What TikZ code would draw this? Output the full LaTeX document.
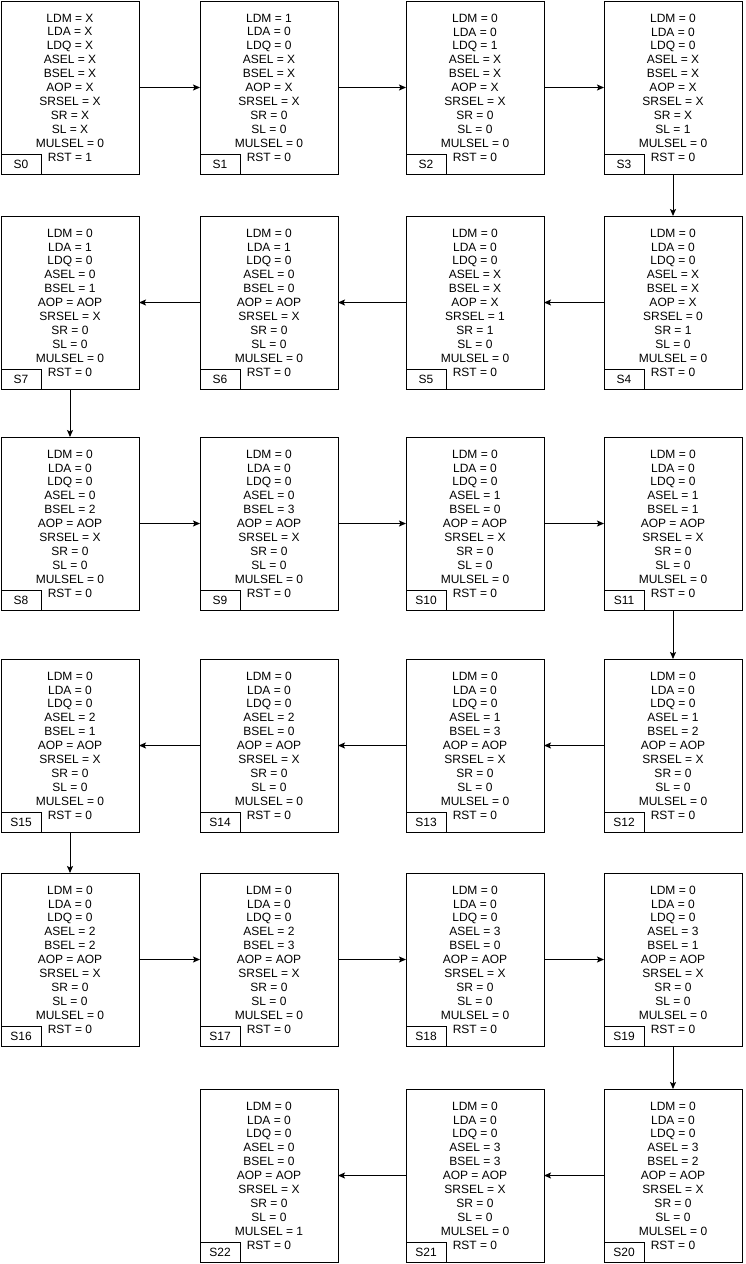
\documentclass[tikz,border=0pt]{standalone}
\usepackage{fontspec}
\setmainfont{Liberation Sans}
\usetikzlibrary{arrows.meta}
\tikzset{
  statebox/.style={draw=black, line width=1pt, minimum width=138pt, minimum height=173pt, inner sep=0pt, outer sep=0pt, fill=white},
  lblbox/.style={draw=black, line width=1pt, minimum width=40pt, minimum height=20pt, inner sep=0pt, outer sep=0pt, font=\fontsize{12}{14}\selectfont},
  txt/.style={align=center, inner sep=0pt, font=\fontsize{12}{13.9}\selectfont},
  arr/.style={draw=black, line width=1pt, -{Stealth[length=7pt, width=6pt, inset=1.5pt]}}
}
\newcommand\vA[9]{LDM = #1\\LDA = #2\\LDQ = #3\\ASEL = #4\\BSEL = #5\\AOP = #6\\SRSEL = #7\\SR = #8\\SL = #9\\}
\newcommand\stbox[5]{%
  \node[statebox, anchor=north west] (#1) at (#3,#4) {};
  \node[lblbox, anchor=south west] (#1l) at (#1.south west) {#2};
  \node[txt] (#1t) at (#1.center) {#5};
}
\begin{document}
\begin{tikzpicture}[x=1pt,y=-1pt]
\useasboundingbox (0,0) rectangle (746,1264);
% row 1
\stbox{S0}{S0}{1}{1}{\vA{X}{X}{X}{X}{X}{X}{X}{X}{X}MULSEL = 0\\RST = 1}
\stbox{S1}{S1}{200}{1}{\vA{1}{0}{0}{X}{X}{X}{X}{0}{0}MULSEL = 0\\RST = 0}
\stbox{S2}{S2}{406}{1}{\vA{0}{0}{1}{X}{X}{X}{X}{0}{0}MULSEL = 0\\RST = 0}
\stbox{S3}{S3}{604}{1}{\vA{0}{0}{0}{X}{X}{X}{X}{X}{1}MULSEL = 0\\RST = 0}
% row 2
\stbox{S4}{S4}{604}{216}{\vA{0}{0}{0}{X}{X}{X}{0}{1}{0}MULSEL = 0\\RST = 0}
\stbox{S5}{S5}{406}{216}{\vA{0}{0}{0}{X}{X}{X}{1}{1}{0}MULSEL = 0\\RST = 0}
\stbox{S6}{S6}{200}{216}{\vA{0}{1}{0}{0}{0}{AOP}{X}{0}{0}MULSEL = 0\\RST = 0}
\stbox{S7}{S7}{1}{216}{\vA{0}{1}{0}{0}{1}{AOP}{X}{0}{0}MULSEL = 0\\RST = 0}
% row 3
\stbox{S8}{S8}{1}{437}{\vA{0}{0}{0}{0}{2}{AOP}{X}{0}{0}MULSEL = 0\\RST = 0}
\stbox{S9}{S9}{200}{437}{\vA{0}{0}{0}{0}{3}{AOP}{X}{0}{0}MULSEL = 0\\RST = 0}
\stbox{S10}{S10}{406}{437}{\vA{0}{0}{0}{1}{0}{AOP}{X}{0}{0}MULSEL = 0\\RST = 0}
\stbox{S11}{S11}{604}{437}{\vA{0}{0}{0}{1}{1}{AOP}{X}{0}{0}MULSEL = 0\\RST = 0}
% row 4
\stbox{S12}{S12}{604}{659}{\vA{0}{0}{0}{1}{2}{AOP}{X}{0}{0}MULSEL = 0\\RST = 0}
\stbox{S13}{S13}{406}{659}{\vA{0}{0}{0}{1}{3}{AOP}{X}{0}{0}MULSEL = 0\\RST = 0}
\stbox{S14}{S14}{200}{659}{\vA{0}{0}{0}{2}{0}{AOP}{X}{0}{0}MULSEL = 0\\RST = 0}
\stbox{S15}{S15}{1}{659}{\vA{0}{0}{0}{2}{1}{AOP}{X}{0}{0}MULSEL = 0\\RST = 0}
% row 5
\stbox{S16}{S16}{1}{873}{\vA{0}{0}{0}{2}{2}{AOP}{X}{0}{0}MULSEL = 0\\RST = 0}
\stbox{S17}{S17}{200}{873}{\vA{0}{0}{0}{2}{3}{AOP}{X}{0}{0}MULSEL = 0\\RST = 0}
\stbox{S18}{S18}{406}{873}{\vA{0}{0}{0}{3}{0}{AOP}{X}{0}{0}MULSEL = 0\\RST = 0}
\stbox{S19}{S19}{604}{873}{\vA{0}{0}{0}{3}{1}{AOP}{X}{0}{0}MULSEL = 0\\RST = 0}
% row 6
\stbox{S20}{S20}{604}{1089}{\vA{0}{0}{0}{3}{2}{AOP}{X}{0}{0}MULSEL = 0\\RST = 0}
\stbox{S21}{S21}{406}{1089}{\vA{0}{0}{0}{3}{3}{AOP}{X}{0}{0}MULSEL = 0\\RST = 0}
\stbox{S22}{S22}{200}{1089}{\vA{0}{0}{0}{0}{0}{AOP}{X}{0}{0}MULSEL = 1\\RST = 0}
% connectors
\draw[arr] (S0.east) -- (S1.west);
\draw[arr] (S1.east) -- (S2.west);
\draw[arr] (S2.east) -- (S3.west);
\draw[arr] (S3.south) -- (S4.north);
\draw[arr] (S4.west) -- (S5.east);
\draw[arr] (S5.west) -- (S6.east);
\draw[arr] (S6.west) -- (S7.east);
\draw[arr] (S7.south) -- (S8.north);
\draw[arr] (S8.east) -- (S9.west);
\draw[arr] (S9.east) -- (S10.west);
\draw[arr] (S10.east) -- (S11.west);
\draw[arr] (S11.south) -- (S12.north);
\draw[arr] (S12.west) -- (S13.east);
\draw[arr] (S13.west) -- (S14.east);
\draw[arr] (S14.west) -- (S15.east);
\draw[arr] (S15.south) -- (S16.north);
\draw[arr] (S16.east) -- (S17.west);
\draw[arr] (S17.east) -- (S18.west);
\draw[arr] (S18.east) -- (S19.west);
\draw[arr] (S19.south) -- (S20.north);
\draw[arr] (S20.west) -- (S21.east);
\draw[arr] (S21.west) -- (S22.east);
\end{tikzpicture}
\end{document}
